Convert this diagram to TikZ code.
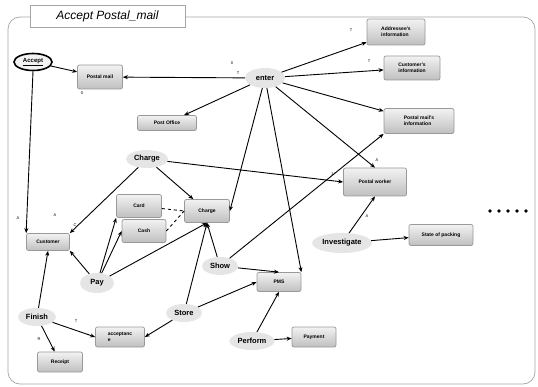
\documentclass[tikz,border=0pt]{standalone}
\usepackage{fontspec}
\setmainfont{Liberation Sans}
\usetikzlibrary{shapes.geometric,arrows.meta}
\begin{document}
\begin{tikzpicture}[x=1pt,y=-1pt,
  box/.style={draw=gray!80, line width=0.7pt, rounded corners=2pt, top color=gray!10, bottom color=gray!50,
    font=\fontsize{5}{5.8}\selectfont\bfseries, align=left, inner sep=1pt},
  act/.style={ellipse, fill=gray!20, font=\fontsize{7.5}{9}\selectfont\bfseries, inner sep=1.5pt},
  arr/.style={-{Stealth[length=5pt,width=4pt]}, line width=0.9pt},
  ln/.style={line width=0.9pt},
  lbl/.style={font=\fontsize{4}{5}\selectfont, inner sep=0pt}]
\useasboundingbox (0,0) rectangle (538,387);
\fill[white] (0,0) rectangle (538,387);
% frame
\draw[gray!70, line width=0.7pt, rounded corners=12pt] (8,17) rectangle (535,384);
\node[draw=gray!70, fill=white, line width=0.6pt, minimum width=155pt, minimum height=22pt, inner sep=0pt,
  font=\fontsize{12}{14}\selectfont\itshape] (title) at (107.5,16) {Accept Postal\_mail};

% activity clouds
\node[ellipse, draw, line width=1.6pt, fill=gray!10, minimum width=38pt, minimum height=17pt, inner sep=0pt,
  font=\fontsize{6}{7}\selectfont\bfseries] (accept) at (33,62) {\underline{Accept}};
\node[act, minimum width=40pt, minimum height=20pt] (enter) at (265,78) {enter};
\node[act, minimum width=42pt, minimum height=18pt] (chargeA) at (147,159) {Charge};
\node[act, minimum width=34pt, minimum height=20pt] (pay) at (97,283) {Pay};
\node[act, minimum width=36pt, minimum height=18pt] (show) at (220,266) {Show};
\node[act, minimum width=36pt, minimum height=18pt] (store) at (184,313) {Store};
\node[act, minimum width=38pt, minimum height=18pt] (finish) at (37,317) {Finish};
\node[act, minimum width=44pt, minimum height=18pt] (perform) at (252,341) {Perform};
\node[act, minimum width=54pt, minimum height=20pt] (invest) at (342,243) {Investigate};

% boxes
\node[box, minimum width=45pt, minimum height=24pt] (pmail) at (100,77) {Postal mail};
\node[box, minimum width=59pt, minimum height=15pt] (poffice) at (167,123) {Post Office};
\node[box, minimum width=58pt, minimum height=26pt] (addr) at (396,32) {Addressee's\\information};
\node[box, minimum width=56pt, minimum height=24pt] (custinfo) at (412,68) {Customer's\\information};
\node[box, minimum width=70pt, minimum height=25pt] (pminfo) at (419,121) {Postal mail's\\information};
\node[box, minimum width=45pt, minimum height=23pt] (card) at (139,206) {Card};
\node[box, minimum width=44pt, minimum height=23pt] (cash) at (144,231) {Cash};
\node[box, minimum width=45pt, minimum height=23pt] (chargeB) at (207,211) {Charge};
\node[box, minimum width=43pt, minimum height=17pt] (cust) at (48,242) {Customer};
\node[box, minimum width=63pt, minimum height=28pt] (pworker) at (375,182) {Postal worker};
\node[box, minimum width=64pt, minimum height=21pt] (state) at (441,235) {State of packing};
\node[box, minimum width=44pt, minimum height=19pt] (pms) at (279,282) {PMS};
\node[box, minimum width=49pt, minimum height=20pt] (accpt) at (120,337) {acceptanc\\e};
\node[box, minimum width=45pt, minimum height=20pt] (receipt) at (60,362) {Receipt};
\node[box, minimum width=44pt, minimum height=20pt] (payment) at (314,337) {Payment};

% dots
\foreach \x in {490,499,508,517,526} \fill (\x,211) circle (1.8pt);

% connectors
\draw[arr] (accept) -- (pmail);
\draw[arr] (accept.south) -- (cust.north west);
\draw[arr] (enter) -- (pmail);
\draw[arr] (enter) -- (poffice);
\draw[arr] (enter) -- (addr);
\draw[arr] (enter) -- (custinfo);
\draw[arr] (enter) -- (pminfo);
\draw[arr] (enter) -- (pworker.north);
\draw[arr] (enter) -- (chargeB.east);
\draw[arr] (enter) -- (pms.north east);
\draw[arr] (chargeA) -- (cust.north east);
\draw[arr] (chargeA) -- (chargeB);
\draw[arr] (chargeA) -- (pworker.west);
\draw[ln, dashed] (card) -- (chargeB.west);
\draw[ln, dashed] (cash.east) -- (chargeB.west);
\draw[arr] (pay) -- (card.south west);
\draw[arr] (pay) -- (cash.west);
\draw[arr] (pay) -- (cust.south east);
\draw[arr] (pay) -- (chargeB.south);
\draw[arr] (show) -- (chargeB.south);
\draw[arr] (show) -- (pms.north);
\draw[arr] (show) -- (pminfo.south west);
\draw[arr] (store) -- (chargeB.south);
\draw[arr] (store) -- (pms.west);
\draw[arr] (store) -- (accpt.east);
\draw[arr] (finish) -- (cust.south);
\draw[arr] (finish) -- (accpt.west);
\draw[arr] (finish) -- (receipt);
\draw[arr] (perform) -- (pms.south);
\draw[arr] (perform) -- (payment);
\draw[arr] (invest) -- (pworker.south);
\draw[arr] (invest) -- (state);

% small labels
\node[lbl] (l1) at (238,73) {T};
\node[lbl] (l2) at (232,63) {0};
\node[lbl] (l3) at (82,93) {0};
\node[lbl] (l4) at (351,30) {T};
\node[lbl] (l5) at (369,61) {T};
\node[lbl] (l6) at (377,160) {A};
\node[lbl] (l7) at (333,174) {1/};
\node[lbl] (l8) at (367,216) {A};
\node[lbl] (l9) at (18,218) {A};
\node[lbl] (l10) at (55,215) {A};
\node[lbl] (l11) at (75,225) {C};
\node[lbl] (l12) at (76,321) {T};
\node[lbl] (l13) at (39,339) {R};
\end{tikzpicture}
\end{document}
